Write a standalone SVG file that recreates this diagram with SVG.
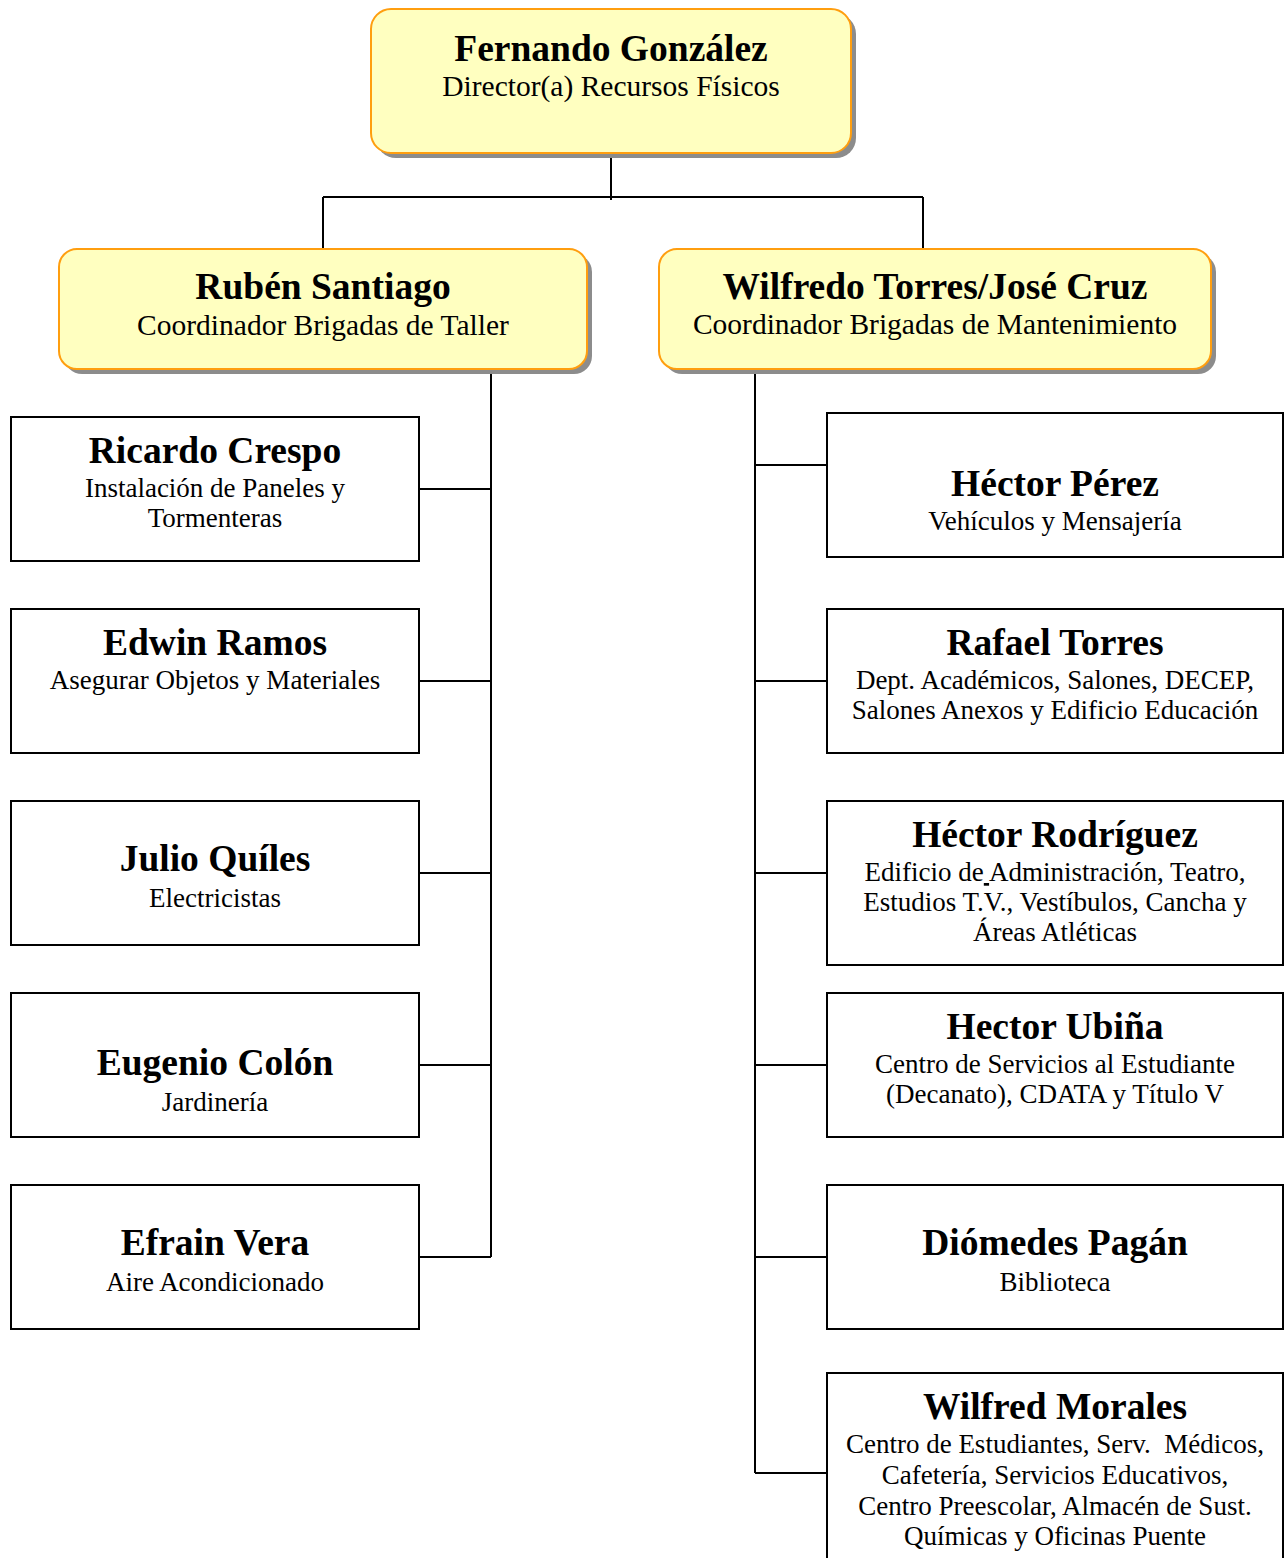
<svg xmlns="http://www.w3.org/2000/svg" width="1287" height="1558" viewBox="0 0 1287 1558">
<style>
.coord{fill:#FFFFC0;stroke:#FF9E0F;stroke-width:2}
.shadow{fill:#8C8C8C}
.box{fill:#FFFFFF;stroke:#000;stroke-width:2}
.name{font-family:"Liberation Serif","Times New Roman",serif;font-weight:bold;font-size:37.5px;text-anchor:middle;fill:#000}
.sub{font-family:"Liberation Serif","Times New Roman",serif;font-size:29.5px;text-anchor:middle;fill:#000}
.sub2{font-family:"Liberation Serif","Times New Roman",serif;font-size:27px;text-anchor:middle;fill:#000}
.conn{stroke:#000;stroke-width:2;fill:none}
</style>
<rect width="1287" height="1558" fill="#FFFFFF"/>
<g id="connectors">
<path class="conn" d="M611 153V200M323 197H923M323 197V249M923 197V249"/>
<path class="conn" d="M491 369V1257M419 489H491M419 681H491M419 873H491M419 1065H491M419 1257H491"/>
<path class="conn" d="M755 369V1473M755 465H827M755 681H827M755 873H827M755 1065H827M755 1257H827M755 1473H827"/>
</g>
<g id="node-director">
<rect class="shadow" x="376" y="14" width="480" height="144" rx="20"/>
<rect class="coord" x="371" y="9" width="480" height="144" rx="20"/>
<text class="name" x="611" y="61">Fernando González</text>
<text class="sub" x="611" y="96">Director(a) Recursos Físicos</text>
</g>
<g id="node-ruben">
<rect class="shadow" x="64" y="254" width="528" height="120" rx="18"/>
<rect class="coord" x="59" y="249" width="528" height="120" rx="18"/>
<text class="name" x="323" y="299">Rubén Santiago</text>
<text class="sub" x="323" y="335">Coordinador Brigadas de Taller</text>
</g>
<g id="node-wilfredo">
<rect class="shadow" x="664" y="254" width="552" height="120" rx="18"/>
<rect class="coord" x="659" y="249" width="552" height="120" rx="18"/>
<text class="name" x="935" y="299">Wilfredo Torres/José Cruz</text>
<text class="sub" x="935" y="334">Coordinador Brigadas de Mantenimiento</text>
</g>
<g id="node-ricardo">
<rect class="box" x="11" y="417" width="408" height="144"/>
<text class="name" x="215" y="463">Ricardo Crespo</text>
<text class="sub2" x="215" y="497">Instalación de Paneles y</text>
<text class="sub2" x="215" y="527">Tormenteras</text>
</g>
<g id="node-edwin">
<rect class="box" x="11" y="609" width="408" height="144"/>
<text class="name" x="215" y="655">Edwin Ramos</text>
<text class="sub2" x="215" y="689">Asegurar Objetos y Materiales</text>
</g>
<g id="node-julio">
<rect class="box" x="11" y="801" width="408" height="144"/>
<text class="name" x="215" y="871">Julio Quíles</text>
<text class="sub2" x="215" y="907">Electricistas</text>
</g>
<g id="node-eugenio">
<rect class="box" x="11" y="993" width="408" height="144"/>
<text class="name" x="215" y="1075">Eugenio Colón</text>
<text class="sub2" x="215" y="1111">Jardinería</text>
</g>
<g id="node-efrain">
<rect class="box" x="11" y="1185" width="408" height="144"/>
<text class="name" x="215" y="1255">Efrain Vera</text>
<text class="sub2" x="215" y="1291">Aire Acondicionado</text>
</g>
<g id="node-hector-perez">
<rect class="box" x="827" y="413" width="456" height="144"/>
<text class="name" x="1055" y="496">Héctor Pérez</text>
<text class="sub2" x="1055" y="530">Vehículos y Mensajería</text>
</g>
<g id="node-rafael">
<rect class="box" x="827" y="609" width="456" height="144"/>
<text class="name" x="1055" y="655">Rafael Torres</text>
<text class="sub2" x="1055" y="689">Dept. Académicos, Salones, DECEP,</text>
<text class="sub2" x="1055" y="719">Salones Anexos y Edificio Educación</text>
</g>
<g id="node-hector-rodriguez">
<rect class="box" x="827" y="801" width="456" height="164"/>
<text class="name" x="1055" y="847">Héctor Rodríguez</text>
<text class="sub2" x="1055" y="881">Edificio de<tspan text-decoration="underline"> </tspan>Administración, Teatro,</text>
<text class="sub2" x="1055" y="911">Estudios T.V., Vestíbulos, Cancha y</text>
<text class="sub2" x="1055" y="941">Áreas Atléticas</text>
</g>
<g id="node-hector-ubina">
<rect class="box" x="827" y="993" width="456" height="144"/>
<text class="name" x="1055" y="1039">Hector Ubiña</text>
<text class="sub2" x="1055" y="1073">Centro de Servicios al Estudiante</text>
<text class="sub2" x="1055" y="1103">(Decanato), CDATA y Título V</text>
</g>
<g id="node-diomedes">
<rect class="box" x="827" y="1185" width="456" height="144"/>
<text class="name" x="1055" y="1255">Diómedes Pagán</text>
<text class="sub2" x="1055" y="1291">Biblioteca</text>
</g>
<g id="node-wilfred">
<rect class="box" x="827" y="1373" width="456" height="200"/>
<text class="name" x="1055" y="1419">Wilfred Morales</text>
<text class="sub2" x="1055" y="1453">Centro de Estudiantes, Serv.&#160; Médicos,</text>
<text class="sub2" x="1055" y="1484">Cafetería, Servicios Educativos,</text>
<text class="sub2" x="1055" y="1515">Centro Preescolar, Almacén de Sust.</text>
<text class="sub2" x="1055" y="1545">Químicas y Oficinas Puente</text>
</g>
</svg>
